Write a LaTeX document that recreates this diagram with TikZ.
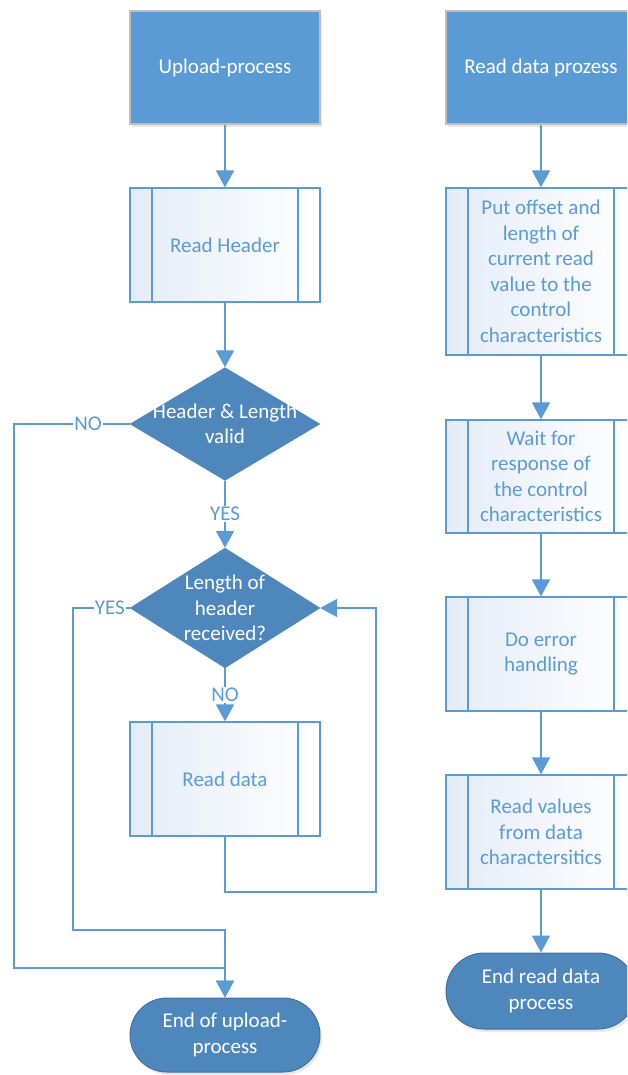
\documentclass[tikz,border=0pt]{standalone}
\usepackage{fontspec}
\setmainfont{Carlito}
\usetikzlibrary{positioning, arrows.meta, shapes.geometric, shadows}
\definecolor{boxblue}{HTML}{5B9BD5}
\definecolor{darkblue}{HTML}{4E87BC}
\definecolor{edgeblue}{HTML}{41719C}
\definecolor{subfill}{HTML}{E4ECF7}
\definecolor{framegray}{HTML}{BFBFBF}

\begin{document}
\begin{tikzpicture}[x=1pt, y=-1pt, font=\fontsize{21}{25.5}\selectfont]

        % Styles
        \tikzstyle{start} = [draw=framegray, line width=1.2pt, fill=boxblue, text=white, minimum width=190pt, minimum height=113pt, inner sep=0pt, drop shadow={opacity=0.18, shadow xshift=2pt, shadow yshift=-3pt}]
        \tikzstyle{subproc} = [draw=boxblue, line width=1.2pt, left color=subfill, right color=white, text=boxblue, minimum width=190pt, inner sep=0pt, align=center,
            path picture={
                \draw[boxblue, line width=1.2pt] ([xshift=22pt]path picture bounding box.north west) -- ([xshift=22pt]path picture bounding box.south west);
                \draw[boxblue, line width=1.2pt] ([xshift=-22pt]path picture bounding box.north east) -- ([xshift=-22pt]path picture bounding box.south east);
            }]
        \tikzstyle{decision} = [diamond, draw=darkblue, fill=darkblue, minimum width=190pt, minimum height=113pt, inner sep=0pt]
        \tikzstyle{dlabel} = [text=white, align=center, inner sep=0pt]
        \tikzstyle{terminal} = [draw=edgeblue, line width=1pt, fill=darkblue, text=white, align=center, minimum width=190pt, minimum height=74pt, rounded corners=37pt, inner sep=0pt, drop shadow={opacity=0.18, shadow xshift=2pt, shadow yshift=-3pt}]
        \tikzstyle{wire} = [draw=boxblue, line width=1.8pt]
        \tikzstyle{flow} = [wire, -{Triangle[width=18pt, length=17pt]}]
        \tikzstyle{answer} = [text=boxblue, fill=white, inner sep=1pt]

        \clip (0,0) rectangle (627,1075);

        % --- LEFT: UPLOAD PROCESS ---
        \node[start] (upload) at (225,67.5) {Upload-process};
        \node[subproc, minimum height=114pt] (header) at (225,245) {Read Header};

        % Checks
        \node[decision] (valid) at (225,424) {};
        \node[dlabel] (validtxt) at (valid) {Header \& Length\\valid};
        \node[decision, minimum height=120pt] (received) at (225,608) {};
        \node[dlabel] (receivedtxt) at (received) {Length of\\header\\received?};

        \node[subproc, minimum height=114pt] (readdata) at (225,779) {Read data};
        \node[terminal] (uploadend) at (225,1035) {End of upload-\\process};

        \draw[flow] (upload) -- (header);
        \draw[flow] (header) -- (valid);
        \draw[flow] (valid) -- node[answer] {YES} (received);
        \draw[flow] (received) -- node[answer] {NO} (readdata);

        % Loop back and exits
        \draw[flow] (readdata.south) -- (225,892) -- (376,892) -- (376,608) -- (received.east);
        \draw[flow] (valid.west) -- node[answer, pos=0.36] {NO} (14,424) -- (14,968) -- (225,968) -- (uploadend.north);
        \draw[flow] (received.west) -- node[answer, pos=0.35] {YES} (73,608) -- (73,930) -- (225,930) -- (uploadend.north);

        % --- RIGHT: READ DATA PROCESS ---
        \node[start] (readproc) at (541,67.5) {Read data prozess};
        \node[subproc, minimum height=167pt] (offset) at (541,271.5) {Put offset and\\length of\\current read\\value to the\\control\\characteristics};
        \node[subproc, minimum height=113pt] (wait) at (541,476.5) {Wait for\\response of\\the control\\characteristics};
        \node[subproc, minimum height=114pt] (error) at (541,654) {Do error\\handling};
        \node[subproc, minimum height=114pt] (values) at (541,832) {Read values\\from data\\charactersitics};
        \node[terminal, minimum height=76pt, rounded corners=38pt] (readend) at (541,991) {End read data\\process};

        \draw[flow] (readproc) -- (offset);
        \draw[flow] (offset) -- (wait);
        \draw[flow] (wait) -- (error);
        \draw[flow] (error) -- (values);
        \draw[flow] (values) -- (readend);

    \end{tikzpicture}
\end{document}
